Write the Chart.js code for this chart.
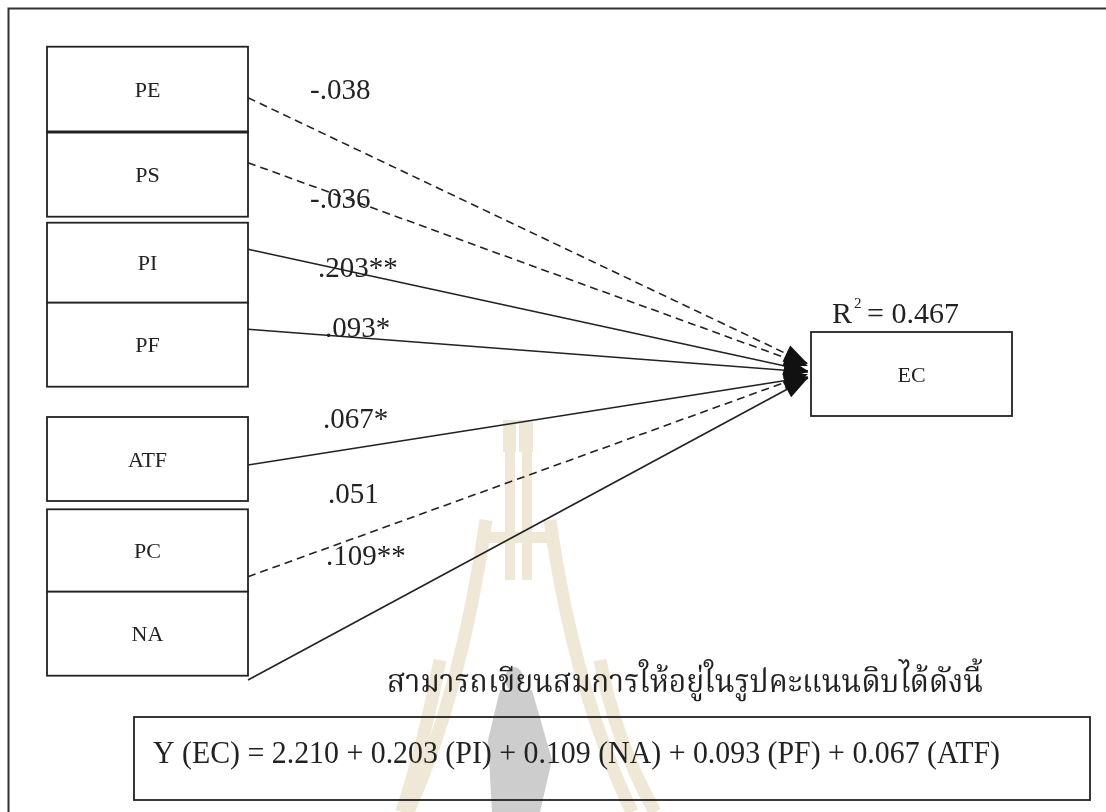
<!DOCTYPE html>
<html>
<head>
<meta charset="utf-8">
<style>
  html, body { margin: 0; padding: 0; background: #fff; }
  #c { display: block; }
</style>
<script src="https://cdn.jsdelivr.net/npm/chart.js@4.4.1/dist/chart.umd.min.js"></script>
</head>
<body>
<canvas id="c" width="1106" height="812"></canvas>
<script>
// path model: predictors -> EC
const predictors = ['PE', 'PS', 'PI', 'PF', 'ATF', 'PC', 'NA'];
const coefficients = [-0.038, -0.036, 0.203, 0.093, 0.067, 0.051, 0.109];
const significance = ['', '', '**', '*', '*', '', '**'];
const outcome = 'EC';
const rSquared = 0.467;
const intercept = 2.210;
const equationIntro = 'สามารถเขียนสมการให้อยู่ในรูปคะแนนดิบได้ดังนี้';

// layout (chart units = pixels)
const boxLeft = 47, boxRight = 248;
const boxTops = [46.7, 132, 222.7, 302.7, 417, 509.3, 591.7];
const boxBottoms = [132, 216.7, 302.7, 386.7, 501, 591.7, 675.7];
const pathStartY = [97.7, 162.7, 249.3, 329.3, 465, 576.7, 680];
const pathEndY = [364, 366, 371, 372, 377, 374, 378];
const arrowTipX = 808;
const labelX = [310, 310, 318, 325, 323, 328, 326];
const labelBaseY = [99, 208, 277, 337, 428, 503, 565];
const ecBox = { l: 811, t: 332, r: 1012, b: 416 };
const eqBox = { l: 134, t: 717, r: 1090, b: 800 };

const INK = '#222';
const SERIF = '"Liberation Serif", "Times New Roman", serif';
const THAI = '"Noto Serif Thai", "Noto Sans Thai", "Norasi", "Loma", "Garuda", "Liberation Serif", serif';

function fmtCoef(v, sig) {
  return (v < 0 ? '-' : '') + Math.abs(v).toFixed(3).replace(/^0/, '') + sig;
}

function equationText() {
  const terms = predictors
    .map((p, i) => ({ name: p, v: coefficients[i], sig: significance[i] }))
    .filter(t => t.sig !== '')
    .sort((a, b) => b.v - a.v);
  return 'Y (' + outcome + ') = ' + intercept.toFixed(3) +
    terms.map(t => ' + ' + t.v.toFixed(3) + ' (' + t.name + ')').join('');
}

// draw text squeezed/stretched to a given width
function fitText(ctx, text, x, y, width) {
  const w = ctx.measureText(text).width;
  ctx.save();
  ctx.translate(x, y);
  ctx.scale(width / w, 1);
  ctx.fillText(text, 0, 0);
  ctx.restore();
}

const datasets = predictors.map((p, i) => ({
  label: p,
  data: [{ x: boxRight, y: pathStartY[i] }, { x: arrowTipX, y: pathEndY[i] }],
  showLine: true,
  borderColor: INK,
  borderWidth: 1.6,
  borderDash: significance[i] ? [] : [8, 5],
  pointRadius: 0,
  fill: false
}));

const diagram = {
  id: 'diagram',
  beforeDatasetsDraw(chart) {
    const ctx = chart.ctx;
    const X = v => chart.scales.x.getPixelForValue(v);
    const Y = v => chart.scales.y.getPixelForValue(v);
    ctx.save();

    // faint watermark
    ctx.strokeStyle = '#f0e8d6';
    ctx.lineWidth = 13;
    ctx.lineCap = 'butt';
    [[[486, 520], [462, 690], [408, 812]], [[550, 520], [574, 690], [632, 812]],
     [[440, 660], [425, 740], [402, 812]], [[600, 660], [615, 740], [655, 812]]].forEach(c => {
      ctx.beginPath();
      ctx.moveTo(X(c[0][0]), Y(c[0][1]));
      ctx.quadraticCurveTo(X(c[1][0]), Y(c[1][1]), X(c[2][0]), Y(c[2][1]));
      ctx.stroke();
    });
    ctx.fillStyle = '#f0e8d6';
    ctx.fillRect(X(503), Y(420), 30, 32);
    ctx.fillRect(X(505), Y(450), 10, 130);
    ctx.fillRect(X(522), Y(450), 10, 130);
    ctx.fillRect(X(478), Y(532), 80, 11);
    ctx.fillStyle = '#fff';
    ctx.fillRect(X(516), Y(423), 3, 29);
    ctx.fillStyle = '#cdcdcd';
    ctx.beginPath();
    ctx.ellipse(X(514), Y(679), 9, 12, 0, 0, Math.PI * 2);
    ctx.fill();
    ctx.beginPath();
    ctx.moveTo(X(500), Y(690));
    ctx.lineTo(X(532), Y(690));
    ctx.lineTo(X(552), Y(760));
    ctx.lineTo(X(540), Y(812));
    ctx.lineTo(X(492), Y(812));
    ctx.lineTo(X(488), Y(740));
    ctx.closePath();
    ctx.fill();

    // outer frame (top and left only visible)
    ctx.strokeStyle = '#333';
    ctx.lineWidth = 2;
    ctx.beginPath();
    ctx.moveTo(X(8.5), Y(812));
    ctx.lineTo(X(8.5), Y(8.5));
    ctx.lineTo(X(1106), Y(8.5));
    ctx.stroke();

    // predictor boxes
    ctx.strokeStyle = INK;
    ctx.lineWidth = 1.8;
    predictors.forEach((p, i) => {
      ctx.fillStyle = '#fff';
      ctx.fillRect(X(boxLeft), Y(boxTops[i]), X(boxRight) - X(boxLeft), Y(boxBottoms[i]) - Y(boxTops[i]));
      ctx.strokeRect(X(boxLeft), Y(boxTops[i]), X(boxRight) - X(boxLeft), Y(boxBottoms[i]) - Y(boxTops[i]));
    });
    ctx.lineWidth = 3;
    ctx.beginPath();
    ctx.moveTo(X(boxLeft), Y(boxBottoms[0]));
    ctx.lineTo(X(boxRight), Y(boxBottoms[0]));
    ctx.stroke();

    // outcome box and equation box
    ctx.lineWidth = 1.8;
    ctx.strokeRect(X(ecBox.l), Y(ecBox.t), X(ecBox.r) - X(ecBox.l), Y(ecBox.b) - Y(ecBox.t));
    ctx.strokeRect(X(eqBox.l), Y(eqBox.t), X(eqBox.r) - X(eqBox.l), Y(eqBox.b) - Y(eqBox.t));
    ctx.restore();
  },
  afterDatasetsDraw(chart) {
    const ctx = chart.ctx;
    const X = v => chart.scales.x.getPixelForValue(v);
    const Y = v => chart.scales.y.getPixelForValue(v);
    ctx.save();

    // arrow heads at the end of each path
    ctx.fillStyle = '#111';
    chart.data.datasets.forEach((ds, i) => {
      const pts = chart.getDatasetMeta(i).data;
      const a = pts[0], b = pts[1];
      const ang = Math.atan2(b.y - a.y, b.x - a.x);
      const len = 24, hw = 9;
      ctx.beginPath();
      ctx.moveTo(b.x, b.y);
      ctx.lineTo(b.x - len * Math.cos(ang) + hw * Math.sin(ang), b.y - len * Math.sin(ang) - hw * Math.cos(ang));
      ctx.lineTo(b.x - len * Math.cos(ang) - hw * Math.sin(ang), b.y - len * Math.sin(ang) + hw * Math.cos(ang));
      ctx.closePath();
      ctx.fill();
    });

    ctx.fillStyle = INK;
    ctx.textBaseline = 'middle';
    ctx.textAlign = 'center';
    ctx.font = '22px ' + SERIF;
    predictors.forEach((p, i) => {
      ctx.fillText(p, X((boxLeft + boxRight) / 2), Y((boxTops[i] + boxBottoms[i]) / 2) + 2);
    });
    ctx.fillText(outcome, X((ecBox.l + ecBox.r) / 2), Y((ecBox.t + ecBox.b) / 2) + 2);

    // coefficients
    ctx.textAlign = 'left';
    ctx.textBaseline = 'alphabetic';
    ctx.font = '29px ' + SERIF;
    predictors.forEach((p, i) => {
      ctx.fillText(fmtCoef(coefficients[i], significance[i]), X(labelX[i]), Y(labelBaseY[i]));
    });

    // R squared
    ctx.font = '30px ' + SERIF;
    ctx.fillText('R', X(832), Y(323));
    const rw = ctx.measureText('R').width;
    ctx.font = '15px ' + SERIF;
    ctx.fillText('2', X(832) + rw + 2, Y(308));
    ctx.font = '30px ' + SERIF;
    ctx.fillText('= ' + rSquared.toFixed(3), X(867), Y(323));

    // equation
    ctx.font = '32px ' + THAI;
    fitText(ctx, equationIntro, X(387), Y(692), X(983) - X(387));
    ctx.font = '32px ' + SERIF;
    fitText(ctx, equationText(), X(153), Y(763), X(1000) - X(153));
    ctx.restore();
  }
};

new Chart(document.getElementById('c'), {
  type: 'scatter',
  data: { datasets: datasets },
  options: {
    responsive: false,
    devicePixelRatio: 1,
    animation: false,
    layout: { padding: 0 },
    plugins: { legend: { display: false }, tooltip: { enabled: false } },
    scales: {
      x: { type: 'linear', min: 0, max: 1106, display: false },
      y: { type: 'linear', min: 0, max: 812, reverse: true, display: false }
    }
  },
  plugins: [diagram]
});
</script>
</body>
</html>
